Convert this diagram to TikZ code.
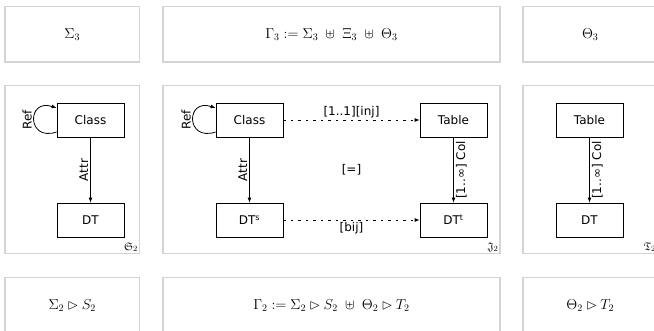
\documentclass[tikz,border=0pt]{standalone}
\usepackage{amssymb}
\usepackage{fontspec}
\setsansfont{DejaVu Sans}
\usetikzlibrary{arrows.meta,calc}
\begin{document}
\begin{tikzpicture}[x=1pt,y=-1pt,
  panel/.style={draw=black!17,line width=1.2pt,inner sep=0pt,font=\fontsize{14.4}{17}\selectfont},
  box/.style={draw,line width=0.8pt,minimum width=67pt,minimum height=34pt,inner sep=0pt,font=\sffamily\fontsize{12}{14}\selectfont},
  lbl/.style={font=\sffamily\fontsize{12}{14}\selectfont,inner sep=2pt},
  frak/.style={font=\fontsize{11}{13}\selectfont,inner sep=2pt,anchor=south east},
  arr/.style={-{Latex[length=5pt,width=4pt]},line width=0.8pt},
  dotarr/.style={arr,dash pattern=on 2.5pt off 5pt},
]
\useasboundingbox (0,0) rectangle (654,330);
\clip (0,0) rectangle (654,330);

% top row
\node[panel,minimum width=134.5pt,minimum height=55.5pt] (s3) at (72.25,34.25) {$\Sigma_3$};
\node[panel,minimum width=337pt,minimum height=55.5pt] (g3) at (331.5,34.25) {$\Gamma_3 := \Sigma_3 \;\uplus\; \Xi_3 \;\uplus\; \Theta_3$};
\node[panel,minimum width=134.5pt,minimum height=55.5pt] (t3) at (590.25,34.25) {$\Theta_3$};

% middle row panels
\node[panel,minimum width=134.5pt,minimum height=168pt] (s2) at (72.25,169.5) {};
\node[panel,minimum width=337pt,minimum height=168pt] (g2) at (331.5,169.5) {};
\node[panel,minimum width=134.5pt,minimum height=168pt] (t2) at (590.25,169.5) {};
\node[frak] (fs) at (s2.south east) {$\mathfrak{S}_2$};
\node[frak] (fj) at (g2.south east) {$\mathfrak{J}_2$};
\node[frak] (ft) at (t2.south east) {$\mathfrak{T}_2$};

% bottom row
\node[panel,minimum width=134.5pt,minimum height=55.5pt] (bs) at (72.25,305.25) {$\Sigma_2 \rhd S_2$};
\node[panel,minimum width=337pt,minimum height=55.5pt] (bg) at (331.5,305.25) {$\Gamma_2 := \Sigma_2 \rhd S_2 \;\uplus\; \Theta_2 \rhd T_2$};
\node[panel,minimum width=134.5pt,minimum height=55.5pt] (bt) at (590.25,305.25) {$\Theta_2 \rhd T_2$};

% left panel content
\node[box] (cl) at (90.5,120) {Class};
\node[box] (dt) at (90.5,220) {DT};
\draw[arr] (cl) -- node[lbl,rotate=90,anchor=south] {Attr} (dt);
\draw[arr] ($(cl.west)+(0,12)$) .. controls +(-30,10) and +(-30,-10) .. node[lbl,pos=0.5,rotate=90,anchor=south] {Ref} ($(cl.west)+(0,-12)$);

% middle panel content
\node[box] (mcl) at (249.5,120) {Class};
\node[box] (mds) at (249.5,220) {DT\textsuperscript{s}};
\node[box] (mtb) at (453.5,120) {Table};
\node[box] (mdt) at (453.5,220) {DT\textsuperscript{t}};
\draw[arr] (mcl) -- node[lbl,rotate=90,anchor=south] {Attr} (mds);
\draw[arr] ($(mcl.west)+(0,12)$) .. controls +(-30,10) and +(-30,-10) .. node[lbl,pos=0.5,rotate=90,anchor=south] {Ref} ($(mcl.west)+(0,-12)$);
\draw[arr] (mtb) -- node[lbl,rotate=90,anchor=north] {[1..∞] Col} (mdt);
\draw[dotarr] (mcl) -- node[lbl,above] {[1..1][inj]} (mtb);
\draw[dotarr] (mds) -- node[lbl,below] {[bij]} (mdt);
\node[lbl] (eq) at (351.5,170) {[=]};

% right panel content
\node[box] (rtb) at (589.5,120) {Table};
\node[box] (rdt) at (589.5,220) {DT};
\draw[arr] (rtb) -- node[lbl,rotate=90,anchor=north] {[1..∞] Col} (rdt);
\end{tikzpicture}
\end{document}
